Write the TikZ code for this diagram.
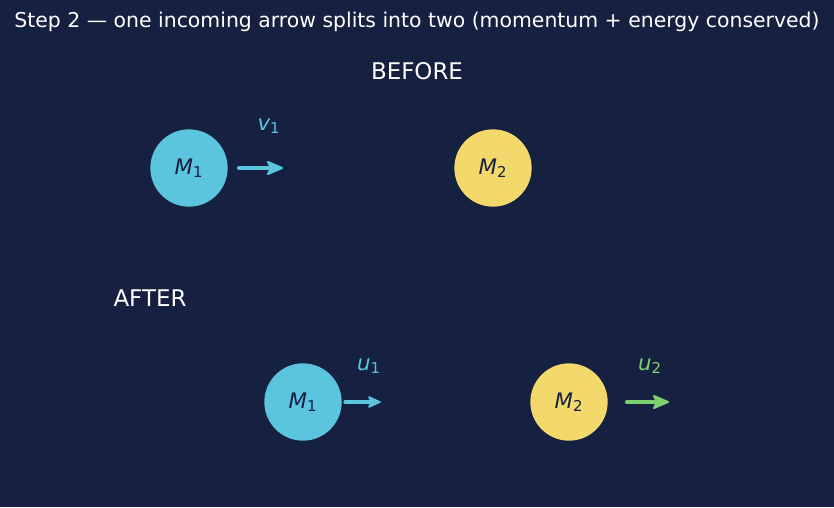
\documentclass[tikz,border=0pt]{standalone}
\usepackage{fontspec}
\setmainfont{DejaVu Sans}
\definecolor{bg}{HTML}{162040}
\definecolor{cyanb}{HTML}{5BC4DE}
\definecolor{yellowb}{HTML}{F3D96B}
\definecolor{greenb}{HTML}{7ED16F}
\begin{document}
\begin{tikzpicture}[x=0.75pt,y=-0.75pt,
  ball/.style={circle,minimum size=58pt,inner sep=0pt,text=bg,font=\fontsize{16}{19}\selectfont},
  cball/.style={ball,fill=cyanb},
  yball/.style={ball,fill=yellowb},
  shaft/.style={line width=3.2pt,line cap=round},
  sshaft/.style={line width=2.4pt,line cap=round},
  tip/.style={line width=1.5pt,line join=round},
  lab/.style={font=\fontsize{16}{19}\selectfont\itshape},
  head/.style={text=white,font=\fontsize{17.2}{20}\selectfont}]
\fill[bg] (0,0) rectangle (834,507);
\useasboundingbox (0,0) rectangle (834,507);
\node[text=white,font=\fontsize{15.3}{18}\selectfont] (title) at (417,22) {Step 2 — one incoming arrow splits into two (momentum + energy conserved)};
\node[head] (before) at (417,71) {BEFORE};
\node[head] (after) at (150,298) {AFTER};
% before
\node[cball] (m1b) at (189,168) {{\itshape M}\textsubscript{1}};
\node[yball] (m2b) at (493,168) {{\itshape M}\textsubscript{2}};
\coordinate (v1s) at (239,168);
\coordinate (v1e) at (282,168);
\draw[shaft,cyanb] (v1s) -- ([xshift=-6]v1e);
\filldraw[tip,cyanb] (v1e) -- ++(-14,-6) -- ++(3,6) -- ++(-3,6) -- cycle;
\node[lab,text=cyanb] (v1) at (269,126) {v\textsubscript{\upshape 1}};
% after
\node[cball] (m1a) at (303,402) {{\itshape M}\textsubscript{1}};
\node[yball] (m2a) at (569,402) {{\itshape M}\textsubscript{2}};
\coordinate (u1s) at (345,402);
\coordinate (u1e) at (380,402);
\draw[sshaft,cyanb] (u1s) -- ([xshift=-5]u1e);
\filldraw[tip,cyanb,line width=1.2pt] (u1e) -- ++(-11,-5) -- ++(2.5,5) -- ++(-2.5,5) -- cycle;
\node[lab,text=cyanb] (u1) at (369,366) {u\textsubscript{\upshape 1}};
\coordinate (u2s) at (627,402);
\coordinate (u2e) at (668,402);
\draw[shaft,greenb] (u2s) -- ([xshift=-6]u2e);
\filldraw[tip,greenb] (u2e) -- ++(-14,-6) -- ++(3,6) -- ++(-3,6) -- cycle;
\node[lab,text=greenb] (u2) at (650,366) {u\textsubscript{\upshape 2}};
\end{tikzpicture}
\end{document}
